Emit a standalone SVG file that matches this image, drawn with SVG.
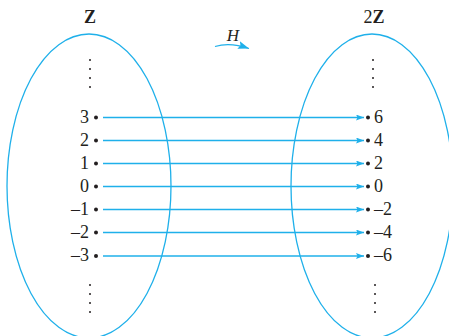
<svg xmlns="http://www.w3.org/2000/svg" width="449" height="336" viewBox="0 0 449 336">
<defs>
<style>
.set{fill:none;stroke:#1fb0ea;stroke-width:1.3}
.map{stroke:#1fb0ea;stroke-width:1.3;fill:none}
.num{font-family:"Liberation Serif",serif;font-size:18px;fill:#231f20}
.ttl{font-family:"Liberation Serif",serif;font-size:18px;font-weight:bold;fill:#231f20}
.pt{fill:#231f20}
.vd{fill:#231f20}
</style>
<marker id="ah" viewBox="0 0 8 6" refX="8" refY="3" markerWidth="8" markerHeight="6" markerUnits="userSpaceOnUse" orient="auto">
<path d="M0,0 L8,3 L0,6 L1.5,3 Z" fill="#1fb0ea"/>
</marker>
<marker id="ah2" viewBox="0 0 11 8" refX="11" refY="4" markerWidth="11" markerHeight="8" markerUnits="userSpaceOnUse" orient="auto">
<path d="M0,0 L11,4 L0,8 L2,4 Z" fill="#1fb0ea"/>
</marker>
</defs>
<rect width="449" height="336" fill="#fff"/>
<g id="setZ">
<ellipse class="set" cx="89" cy="186" rx="82" ry="152"/>
<text class="ttl" x="90" y="23" text-anchor="middle">Z</text>
<g class="vd"><circle cx="90" cy="60" r="1"/><circle cx="90" cy="69" r="1"/><circle cx="90" cy="78" r="1"/><circle cx="90" cy="87" r="1"/>
<circle cx="90" cy="285" r="1"/><circle cx="90" cy="294" r="1"/><circle cx="90" cy="303" r="1"/><circle cx="90" cy="312" r="1"/></g>
<g class="num" text-anchor="end">
<text x="89" y="122.5">3</text><text x="89" y="145.5">2</text><text x="89" y="168.5">1</text><text x="89" y="191.5">0</text><text x="89" y="214.5">–1</text><text x="89" y="237.5">–2</text><text x="89" y="261">–3</text>
</g>
<g class="pt"><circle cx="96" cy="117.5" r="2"/><circle cx="96" cy="140.5" r="2"/><circle cx="96" cy="163.5" r="2"/><circle cx="96" cy="186.5" r="2"/><circle cx="96" cy="209.5" r="2"/><circle cx="96" cy="232.5" r="2"/><circle cx="96" cy="256" r="2"/></g>
</g>
<g id="set2Z">
<ellipse class="set" cx="372" cy="186" rx="81" ry="152"/>
<text class="ttl" x="374" y="23" text-anchor="middle"><tspan font-weight="normal">2</tspan>Z</text>
<g class="vd"><circle cx="373" cy="60" r="1"/><circle cx="373" cy="69" r="1"/><circle cx="373" cy="78" r="1"/><circle cx="373" cy="87" r="1"/>
<circle cx="375" cy="285" r="1"/><circle cx="375" cy="294" r="1"/><circle cx="375" cy="303" r="1"/><circle cx="375" cy="312" r="1"/></g>
<g class="pt"><circle cx="368" cy="117.5" r="2"/><circle cx="368" cy="140.5" r="2"/><circle cx="368" cy="163.5" r="2"/><circle cx="368" cy="186.5" r="2"/><circle cx="368" cy="209.5" r="2"/><circle cx="368" cy="232.5" r="2"/><circle cx="368" cy="256" r="2"/></g>
<g class="num">
<text x="374" y="122.5">6</text><text x="374" y="145.5">4</text><text x="374" y="168.5">2</text><text x="374" y="191.5">0</text><text x="374" y="214.5">–2</text><text x="374" y="237.5">–4</text><text x="374" y="261">–6</text>
</g>
</g>
<g id="labelH">
<text x="233" y="41" text-anchor="middle" font-family="'Liberation Serif',serif" font-style="italic" font-size="17" fill="#231f20">H</text>
</g>
<g id="connectors">
<path class="map" d="M103,117.5 H364" marker-end="url(#ah)"/>
<path class="map" d="M103,140.5 H364" marker-end="url(#ah)"/>
<path class="map" d="M103,163.5 H364" marker-end="url(#ah)"/>
<path class="map" d="M103,186.5 H364" marker-end="url(#ah)"/>
<path class="map" d="M103,209.5 H364" marker-end="url(#ah)"/>
<path class="map" d="M103,232.5 H364" marker-end="url(#ah)"/>
<path class="map" d="M103,256 H364" marker-end="url(#ah)"/>
<path class="map" d="M215,46.5 Q230,42 249,48.5" marker-end="url(#ah2)"/>
</g>
</svg>
